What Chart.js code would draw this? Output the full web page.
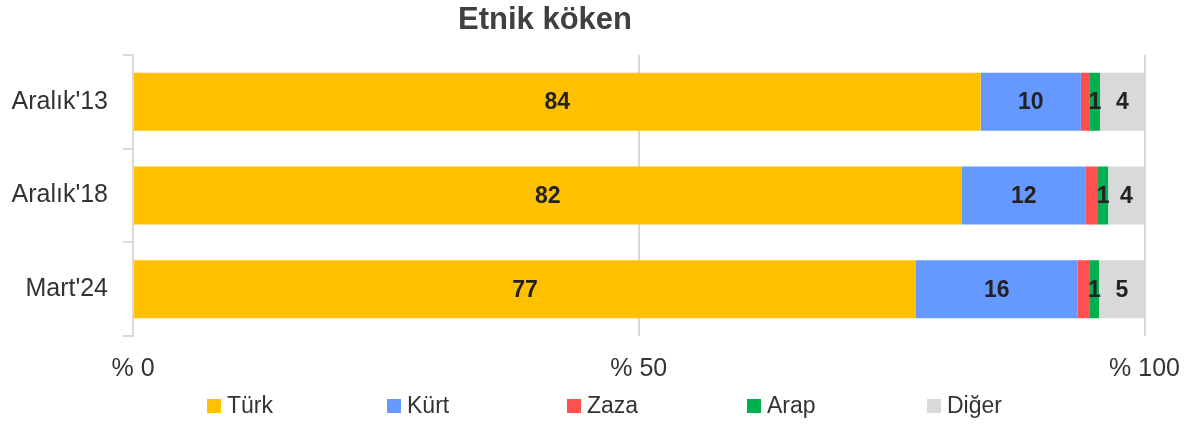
<!DOCTYPE html>
<html>
<head>
<meta charset="utf-8">
<script src="https://cdn.jsdelivr.net/npm/chart.js@4"></script>
<style>
  body { margin: 0; background: #fff; }
  #wrap { position: relative; width: 1198px; height: 424px; }
  #title {
    position: absolute; top: 1px; left: 445px; width: 200px; text-align: center;
    font: bold 31px "Liberation Sans Narrow", "Liberation Sans", sans-serif; color: #404040;
    line-height: 36px;
  }
  #legend {
    position: absolute; top: 392px; left: 207px; display: flex;
    font: 23px "Liberation Sans", sans-serif; color: #333;
  }
  .item { width: 180px; display: flex; align-items: center; }
  .box { width: 14px; height: 14px; margin-right: 6px; }
</style>
</head>
<body>
<div id="wrap">
  <canvas id="etnik"></canvas>
  <div id="title">Etnik köken</div>
  <div id="legend"></div>
</div>
<script>
// kategoriler ve seriler (yüzde)
const donemler = ["Aralık'13", "Aralık'18", "Mart'24"];
const turk  = [83.8, 81.9, 77.4];
const kurt  = [9.9, 12.3, 16.0];
const zaza  = [0.9, 1.2, 1.2];
const arap  = [1.0, 1.0, 0.9];
const diger = [4.4, 3.6, 4.5];
const xTicks = [0, 50, 100];

const seriler = [
    { label: 'Türk',  data: turk,  color: '#FFC000', etiket: true },
    { label: 'Kürt',  data: kurt,  color: '#6699FF', etiket: true },
    { label: 'Zaza',  data: zaza,  color: '#FF5050', etiket: false },
    { label: 'Arap',  data: arap,  color: '#00B050', etiket: true },
    { label: 'Diğer', data: diger, color: '#D9D9D9', etiket: true }
];

// barların ortasına değer yazan eklenti
const degerEtiketi = {
    id: 'degerEtiketi',
    afterDatasetsDraw(chart) {
        const ctx = chart.ctx;
        ctx.save();
        ctx.font = 'bold 23px "Liberation Sans", sans-serif';
        ctx.fillStyle = '#222';
        ctx.textAlign = 'center';
        ctx.textBaseline = 'middle';
        chart.data.datasets.forEach((ds, i) => {
            if (!ds.etiket) return;
            chart.getDatasetMeta(i).data.forEach((bar, j) => {
                const p = bar.getProps(['x', 'y', 'base'], true);
                ctx.fillText(Math.round(ds.data[j]), (p.x + p.base) / 2, p.y + 1);
            });
        });
        ctx.restore();
    }
};

const ctx = document.getElementById('etnik').getContext('2d');
const grafik = new Chart(ctx, {
    type: 'bar',
    data: {
        labels: donemler,
        datasets: seriler.map(s => ({
            label: s.label,
            data: s.data,
            backgroundColor: s.color,
            etiket: s.etiket,
            barPercentage: 0.62,
            categoryPercentage: 1
        }))
    },
    options: {
        indexAxis: 'y',
        responsive: true,
        maintainAspectRatio: false,
        animation: false,
        layout: { padding: { top: 55, right: 53, bottom: 22, left: 0 } },
        plugins: {
            legend: { display: false },
            title: { display: false },
            tooltip: { enabled: false }
        },
        scales: {
            x: {
                stacked: true,
                min: 0,
                max: 100,
                afterBuildTicks: s => { s.ticks = xTicks.map(v => ({ value: v })); },
                ticks: {
                    callback: v => '% ' + v,
                    font: { family: '"Liberation Sans", sans-serif', size: 25 },
                    color: '#333',
                    padding: 18,
                    maxRotation: 0
                },
                grid: { color: '#D9D9D9', lineWidth: 2, drawTicks: false },
                border: { display: false }
            },
            y: {
                stacked: true,
                afterFit: s => { s.width = 133; },
                ticks: {
                    font: { family: '"Liberation Sans", sans-serif', size: 25 },
                    color: '#333',
                    padding: 15
                },
                grid: { drawOnChartArea: false, tickLength: 10, color: '#D9D9D9', lineWidth: 2 },
                border: { color: '#D9D9D9', width: 2 }
            }
        }
    },
    plugins: [degerEtiketi]
});

// html lejant
const lej = document.getElementById('legend');
grafik.data.datasets.forEach(ds => {
    const it = document.createElement('div');
    it.className = 'item';
    it.innerHTML = '<span class="box" style="background:' + ds.backgroundColor + '"></span><span>' + ds.label + '</span>';
    lej.appendChild(it);
});
</script>
</body>
</html>
